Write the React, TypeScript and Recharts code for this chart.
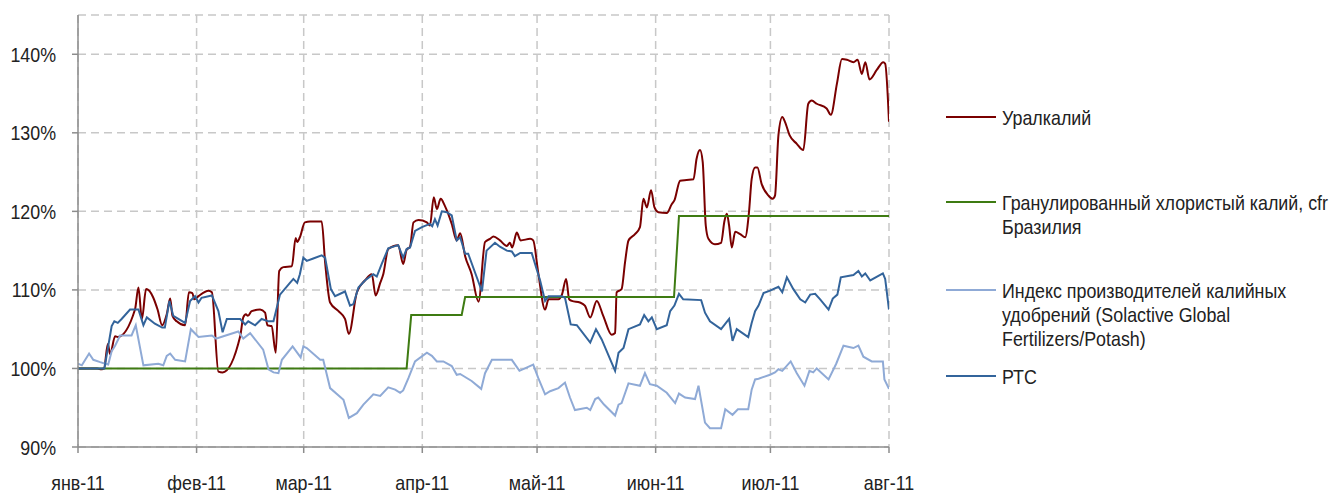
import React from "react";
import { LineChart, Line, XAxis, YAxis, CartesianGrid } from "recharts";

// x = days since 1 Jan 2011, y = % of the 1 Jan level
const monthDays = [0, 31, 59, 90, 120, 151, 181, 212];
const monthLabels = ["янв-11", "фев-11", "мар-11", "апр-11", "май-11", "июн-11", "июл-11", "авг-11"];
const yTicks = [90, 100, 110, 120, 130, 140];

const seriesNames = [
  "Уралкалий",
  "Гранулированный хлористый калий, cfr Бразилия",
  "Индекс производителей калийных удобрений (Solactive Global Fertilizers/Potash)",
  "РТС",
];
const legendLines = [
  ["Уралкалий"],
  ["Гранулированный хлористый калий, cfr", "Бразилия"],
  ["Индекс производителей калийных", "удобрений (Solactive Global", "Fertilizers/Potash)"],
  ["РТС"],
];
const colors = ["#7A0000", "#3E7B12", "#8FAAD6", "#33649B"];

const uralkali: [number, number][] = [
  [0, 100], [5, 100], [5.8, 99.9], [6.8, 100], [7.8, 103.1], [8.4, 101.8], [9.7, 104.1], [10.4, 104],
  [14.9, 107.5], [15.8, 110.3], [16.7, 106.3], [17.8, 110.1], [19.6, 109.1], [20.8, 107.5], [22, 105.5],
  [23.2, 106.9], [24.1, 108.9], [24.7, 106.7], [25.8, 106], [28, 105.5], [29, 109.7], [29.9, 109.6],
  [30.4, 108.8], [31.5, 109.2], [34.1, 109.9], [35, 109.7], [36.7, 99.6], [37.8, 99.5], [42.4, 104.1],
  [43.2, 106.5], [43.9, 106.9], [44.4, 106.7], [45.4, 107.3], [47.6, 107.5], [48.9, 107.1], [49.5, 105.5],
  [50.6, 105.4], [51.7, 102], [52.6, 112.4], [53.7, 112.9], [55.9, 113], [56.9, 116.6], [57.3, 116.1],
  [58, 116.7], [59.3, 118.6], [60.7, 118.7], [63.7, 118.7], [64.6, 113.5], [65.9, 108.4], [68.1, 107.3],
  [69.8, 106.3], [70.8, 104.4], [72.9, 109.7], [75, 111.2], [76.8, 112], [77.8, 109.3], [79, 110.9],
  [79.8, 112], [81.1, 115.2], [83.7, 115.7], [85, 113.3], [85.9, 115.1], [86.8, 115.5], [87.7, 118.6],
  [89, 118.9], [91.2, 118.6], [92, 118.2], [93, 121.8], [93.8, 120.3], [94.8, 121.6], [95.9, 120.7],
  [97.7, 118.4], [99, 116.3], [99.9, 117.2], [101.2, 114.3], [102.9, 112], [104.7, 108.5], [106.4, 116.1],
  [107.7, 116.5], [108.6, 116.8], [110.3, 116.3], [112.1, 115.6], [112.9, 116], [113.5, 115.4],
  [114.7, 117.3], [115.7, 116.3], [118.2, 116.5], [119, 116.3], [120.3, 112.2], [122.1, 107.5],
  [123, 108.8], [125.6, 108.8], [126.5, 109.4], [127.6, 111.4], [128.4, 108.8], [129.1, 108.6],
  [131.2, 108.4], [132.5, 108], [133.9, 106.5], [135.6, 108.6], [137.3, 106.7], [139.5, 104.3],
  [140.4, 104.5], [140.8, 109.7], [142.1, 110.1], [143, 113.5], [143.9, 116.3], [145.6, 117.1],
  [146.9, 118], [147.8, 121.6], [148.7, 120.5], [149.8, 122.7], [150.7, 120.5], [151.7, 119.9],
  [153.9, 119.8], [155.2, 120.9], [155.9, 121.4], [157.4, 123.9], [159.1, 124], [160.9, 124.1],
  [161.7, 126.7], [162.6, 127.8], [163.3, 126.3], [164.1, 118.2], [164.8, 116.5], [166.5, 115.8],
  [168.1, 116], [169, 118.8], [169.6, 119.7], [170.2, 118.2], [170.9, 115.4], [171.8, 117.4],
  [173.1, 117.1], [174.4, 116.7], [175.4, 119.9], [176.1, 124.1], [177, 125.6], [177.6, 125.6],
  [178.7, 123.5], [180.5, 122], [181.6, 121.6], [182.2, 122], [183.1, 129.7], [184.1, 132],
  [184.8, 131.4], [186, 129.7], [187.9, 128.6], [189.6, 127.8], [190.9, 133.7], [191.8, 134.1],
  [193.1, 133.7], [195.7, 133.1], [196.8, 132.3], [198.4, 136.3], [199.7, 139.4], [201, 139.3],
  [202.7, 139], [203.8, 139.3], [204.9, 137.5], [205.8, 139], [206.9, 136.8], [208.8, 138],
  [210.5, 139], [211, 138.8], [212, 131.4],
];

const potashCfr: [number, number][] = [
  [0, 100], [85.9, 100], [87.1, 106.8], [100.3, 106.8], [101.2, 109.1], [155.8, 109.1],
  [157.1, 119.4], [212, 119.4],
];

const solactive: [number, number][] = [
  [0, 100.6], [1, 100.4], [2.9, 101.9], [4, 101.1], [5.8, 100.8], [7.1, 100.6], [7.9, 100.5],
  [8.8, 102.2], [9.7, 102.9], [11, 104.2], [14, 104.2], [15.1, 105.5], [17.1, 100.4], [21, 100.6],
  [22.3, 100.4], [23.2, 101.6], [24.1, 101.9], [25.4, 101.1], [28, 100.9], [29.5, 105], [31.5, 104],
  [33.2, 104.1], [35, 104.2], [36.1, 103.8], [38, 104.1], [41.9, 104.7], [43.2, 103.8], [45, 104.5],
  [48.4, 102.4], [49.8, 99.9], [51.1, 99.5], [52.4, 99.4], [53.3, 101.1], [56.1, 102.8], [58.2, 101.4],
  [58.9, 102.8], [59.8, 102.6], [63.3, 101.1], [64.1, 101.1], [65.9, 97.5], [69.4, 96], [70.8, 93.7],
  [72.9, 94.3], [74.6, 95.4], [77.2, 96.7], [79, 96.5], [81.1, 97.6], [82.9, 97.3], [84.2, 96.9],
  [85, 97.2], [86.4, 98.8], [88.1, 100.9], [91.2, 102], [92.5, 101.6], [93.8, 100.9], [95.5, 100.9],
  [97.7, 100.3], [99, 99.2], [99.9, 99.3], [102.9, 98.4], [105.4, 97.4], [106.4, 99.4], [108.2, 101.1],
  [113.4, 101.1], [115.4, 99.7], [119, 100.5], [120.3, 98.8], [122.1, 96.7], [123.4, 97.1],
  [125.6, 97.5], [127.3, 98.2], [128.6, 96.3], [129.9, 94.7], [133, 95], [133.9, 94.7], [135.2, 96.1],
  [136, 96.3], [137.5, 95.4], [140.4, 94], [141.3, 95.4], [142.1, 95.6], [143.9, 98.1], [146.9, 97.8],
  [148.2, 99.4], [149.5, 98], [151.3, 97.8], [153.9, 96.9], [156.1, 95.6], [157.1, 96.8], [158.7, 96.3],
  [161.3, 96.1], [162.2, 97.8], [163.9, 93.1], [165.2, 92.4], [168.1, 92.4], [169.2, 94.8],
  [171.1, 94.1], [172.5, 94.8], [175.2, 94.8], [176.1, 97.3], [177, 98.6], [177.9, 98.7], [180.9, 99.2],
  [182.2, 99.5], [183.1, 99.9], [184.1, 99.7], [186.3, 100.9], [187.9, 99.4], [189.9, 97.8],
  [191.2, 99.7], [192.2, 99.5], [193.1, 100], [196.2, 98.6], [198.2, 100.6], [200.1, 102.9],
  [202.7, 102.6], [204, 102.9], [205.3, 101.5], [207.5, 100.9], [210.4, 100.9], [210.8, 98.6],
  [212, 97.4],
];

const rts: [number, number][] = [
  [0, 100], [6.9, 100], [8.8, 105.4], [9.5, 106], [10.4, 105.8], [11.4, 106.3], [13.6, 107.5],
  [15.8, 107.5], [17.1, 105.5], [18, 106.5], [20.1, 105.7], [22, 105.2], [22.7, 105.2], [23.9, 108.6],
  [24.9, 106.7], [28, 105.8], [29.3, 108.6], [30.6, 109.2], [31.5, 108.4], [32.3, 109], [35, 109.3],
  [36.7, 107.3], [37.8, 104.6], [38.9, 106.3], [42.4, 106.3], [43.7, 105.6], [44.5, 106], [46.3, 105.5],
  [48, 106.3], [49.8, 106], [51.1, 106], [52.8, 109.4], [55.4, 110.9], [56.3, 111.4], [57.3, 110.9],
  [58, 112], [58.9, 114.1], [59.8, 113.7], [61.5, 114], [63.7, 114.4], [64.6, 114.1], [66.1, 110.1],
  [67.2, 109.2], [69.8, 109.8], [71.1, 108], [72, 108.2], [73.3, 110.3], [75, 111.2], [77.2, 112],
  [78.1, 111.7], [79.4, 113.3], [81.1, 115.3], [83.7, 115.7], [85, 114.1], [85.9, 115.2], [86.8, 115.4],
  [88.1, 117.5], [89.9, 118], [92, 118.4], [92.6, 118.1], [93.3, 119], [94, 118.2], [95.1, 120],
  [96.4, 119.9], [97.7, 119.5], [99, 116.3], [99.9, 116.7], [101.2, 114.6], [102, 114.6],
  [105.6, 109.8], [106.8, 115], [109, 116], [110.3, 115.5], [112.1, 115], [113.4, 114.9], [114.2, 114.3],
  [115.6, 114.7], [118.6, 114.7], [120.8, 111.2], [122.1, 108.6], [123, 109.2], [126.5, 109.2],
  [127.3, 109], [128.8, 105.6], [130.4, 105.5], [133.9, 103.3], [135.4, 105], [136.9, 103.7],
  [140.4, 99.7], [141.3, 102], [142.6, 102.6], [143.9, 105], [146.9, 105.6], [148, 106.8], [149.1, 106],
  [150, 106.5], [151.3, 105], [153.9, 105.5], [154.8, 107.3], [155.9, 108], [157.1, 109.5],
  [158.2, 108.8], [162.9, 108.7], [163.9, 107.1], [165.2, 106], [168.1, 105], [170.2, 106.3],
  [171.1, 103.5], [172.2, 105], [175.2, 104], [176.1, 105.8], [177, 107.3], [177.9, 108], [179.2, 109.6],
  [180.9, 109.9], [183.1, 110.4], [184.1, 109.7], [185.3, 111.6], [187, 110.1], [188.8, 108.8],
  [190.1, 108.4], [191.4, 109.4], [192.7, 109.5], [194, 108.8], [196.2, 107.5], [197.3, 108.9],
  [198.5, 109.4], [199.4, 111.6], [202.7, 111.9], [204, 112.4], [204.9, 111.7], [205.8, 112.1],
  [207.1, 111.2], [210.4, 112.1], [211, 111.4], [212, 107.5],
];

const toRows = (pts: [number, number][]) => pts.map(([d, v]) => ({ d, v }));

const FONT = "'Liberation Sans', Arial, sans-serif";
const FONT_SIZE = 21;
const SQUEEZE = 0.85;

const PctTick = (props: any) => {
  const { x, y, payload } = props;
  return (
    <g transform={`translate(${x},${y}) scale(${SQUEEZE},1)`}>
      <text x={0} y={0} dy={7.5} textAnchor="end" fontSize={FONT_SIZE} fontFamily={FONT} fill="#222">
        {payload.value}%
      </text>
    </g>
  );
};

const MonthTick = (props: any) => {
  const { x, y, payload } = props;
  const label = monthLabels[monthDays.indexOf(payload.value)];
  return (
    <g transform={`translate(${x},${y}) scale(${SQUEEZE},1)`}>
      <text x={0} y={0} dy={35} textAnchor="middle" fontSize={FONT_SIZE} fontFamily={FONT} fill="#222">
        {label}
      </text>
    </g>
  );
};

const legendY = [117, 202, 290, 376];

const Legend = () => (
  <svg width={1333} height={493} style={{ position: "absolute", left: 0, top: 0, pointerEvents: "none" }}>
    {legendLines.map((lines, i) => (
      <g key={seriesNames[i]}>
        <line x1={946} x2={996} y1={legendY[i]} y2={legendY[i]} stroke={colors[i]} strokeWidth={2} />
        {lines.map((t, j) => (
          <g key={j} transform={`translate(1002,${legendY[i] + 7.5 + j * 24.2}) scale(${SQUEEZE},1)`}>
            <text x={0} y={0} fontSize={FONT_SIZE} fontFamily={FONT} fill="#222">
              {t}
            </text>
          </g>
        ))}
      </g>
    ))}
  </svg>
);

export default function App() {
  const series = [uralkali, potashCfr, solactive, rts];
  return (
    <div style={{ position: "absolute", left: 0, top: 0, width: 1333, height: 493, background: "#fff" }}>
      <LineChart width={1333} height={493} margin={{ top: 15, right: 444, bottom: 0, left: 0 }}>
        <CartesianGrid stroke="#C8C8C8" strokeDasharray="8 5" strokeWidth={1.5} />
        <XAxis
          type="number"
          dataKey="d"
          domain={[0, 212]}
          ticks={monthDays}
          interval={0}
          height={46}
          stroke="#8C8C8C"
          strokeWidth={1.5}
          tickSize={6}
          tick={<MonthTick />}
          allowDataOverflow
        />
        <YAxis
          type="number"
          domain={[90, 145]}
          ticks={yTicks}
          interval={0}
          width={78}
          stroke="#8C8C8C"
          strokeWidth={1.5}
          tickSize={6}
          tickMargin={16}
          tick={<PctTick />}
          allowDataOverflow
        />
        {series.map((pts, i) => (
          <Line
            key={seriesNames[i]}
            name={seriesNames[i]}
            data={toRows(pts)}
            dataKey="v"
            type={i === 0 ? "monotone" : "linear"}
            stroke={colors[i]}
            strokeWidth={2}
            dot={false}
            activeDot={false}
            isAnimationActive={false}
          />
        ))}
      </LineChart>
      <Legend />
    </div>
  );
}
